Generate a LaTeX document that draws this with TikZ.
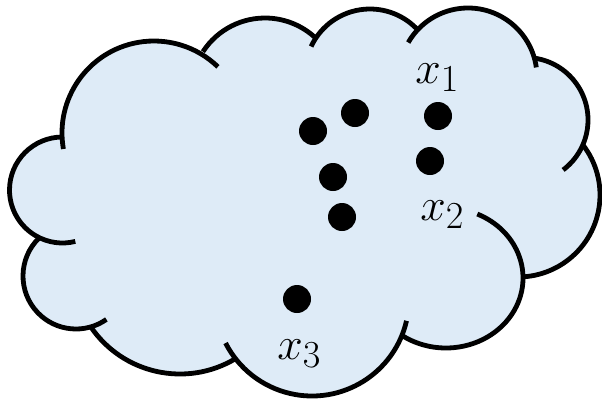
\documentclass[tikz,border=0pt]{standalone}
\definecolor{cloudblue}{RGB}{222,235,247}

\begin{document}
\begin{tikzpicture}[x=1pt,y=-1pt,line join=round,
  lobe/.style={draw=black,line width=4.8pt},
  dot/.style={circle,fill=black,inner sep=0pt,minimum size=28pt},
  lbl/.style={font=\Huge,scale=1.84,inner sep=0pt,anchor=base west}]
\useasboundingbox (0,0) rectangle (602,399);
% body of the cloud
\fill[cloudblue] (62.5,190) -- (154,133) -- (265,92) -- (370,74) -- (468,77) -- (525.5,120) -- (518,195) -- (446,278) -- (312,299) -- (180,266) -- (76,276) -- cycle;
\fill[cloudblue] (62.5,190) circle[radius=53];
\fill[cloudblue] (154,133) circle[radius=92];
\fill[cloudblue] (265,92) circle[radius=74];
\fill[cloudblue] (370,74) circle[radius=65];
\fill[cloudblue] (468,77) circle[radius=69];
\fill[cloudblue] (525.5,120) circle[radius=62.5];
\fill[cloudblue] (518,195) circle[radius=82];
\fill[cloudblue] (446,278) ellipse[x radius=77,y radius=70];
\fill[cloudblue] (312,299) circle[radius=97];
\fill[cloudblue] (180,266) circle[radius=108];
\fill[cloudblue] (76,276) circle[radius=53];
% outline, one arc per lobe
\draw[lobe] (62.5,190) ++(270:53) arc[start angle=270,end angle=76,radius=53];
\draw[lobe] (154,133) ++(170:92) arc[start angle=170,end angle=314,radius=92];
\draw[lobe] (265,92) ++(213:74) arc[start angle=213,end angle=313,radius=74];
\draw[lobe] (370,74) ++(205:65) arc[start angle=205,end angle=318,radius=65];
\draw[lobe] (468,77) ++(210:69) arc[start angle=210,end angle=352,radius=69];
\draw[lobe] (525.5,120) ++(278:62.5) arc[start angle=278,end angle=413,radius=62.5];
\draw[lobe] (518,195) ++(-38:82) arc[start angle=-38,end angle=87,radius=82];
\draw[lobe] (446,278) ++(-66:77 and 70) arc[start angle=-66,end angle=124,x radius=77,y radius=70];
\draw[lobe] (312,299) ++(13:97) arc[start angle=13,end angle=153,radius=97];
\draw[lobe] (180,266) ++(146:108) arc[start angle=146,end angle=59,radius=108];
\draw[lobe] (76,276) ++(226:53) arc[start angle=226,end angle=55,radius=53];
% points
\node[dot] (p1) at (313,131) {};
\node[dot] (p2) at (355,113) {};
\node[dot] (p3) at (438,116) {};
\node[dot] (p4) at (430,161) {};
\node[dot] (p5) at (333,177) {};
\node[dot] (p6) at (342,217) {};
\node[dot] (p7) at (297,299) {};
% labels
\node[lbl] (x1) at (415,83) {$x_1$};
\node[lbl] (x2) at (420,220) {$x_2$};
\node[lbl] (x3) at (277,359) {$x_3$};
\end{tikzpicture}
\end{document}
